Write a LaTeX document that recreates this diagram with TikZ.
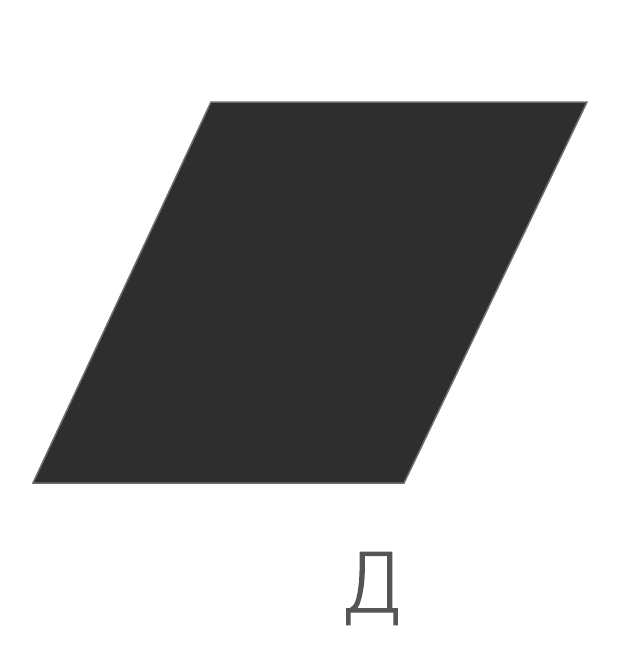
\documentclass[tikz,border=0pt]{standalone}
\usepackage{fontspec}
\newfontfamily\cyrfont{DejaVu Sans ExtraLight}
\definecolor{shapefill}{HTML}{2E2E2E}
\definecolor{labelgray}{HTML}{555555}
\begin{document}
\begin{tikzpicture}[x=1pt,y=-1pt,
  shapebox/.style={fill=shapefill,draw=shapefill!70!white,line width=1.5pt,line join=miter},
  lettertext/.style={text=labelgray,font=\cyrfont\fontsize{82}{82}\selectfont,inner sep=0pt,anchor=base}]
\useasboundingbox (0,0) rectangle (616,672);
\coordinate (tl) at (211,102);
\coordinate (tr) at (587,102);
\coordinate (br) at (404,483);
\coordinate (bl) at (33,483);
\path[shapebox] (tl) -- (tr) -- (br) -- (bl) -- cycle;
\node[lettertext] (lbl) at (372,612) {\addfontfeature{FakeBold=1.5}Д};
\end{tikzpicture}
\end{document}
